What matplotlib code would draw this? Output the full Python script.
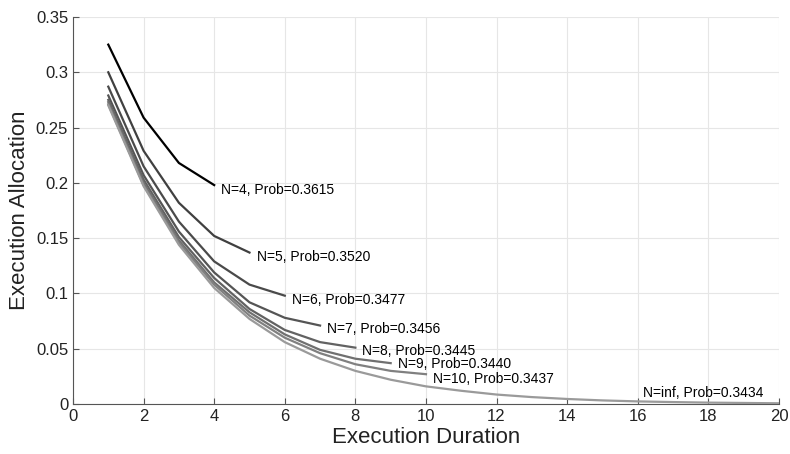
import matplotlib
matplotlib.use("Agg")
import matplotlib.pyplot as plt

plt.rcParams['font.family'] = ['Liberation Sans', 'DejaVu Sans']

series_names = ["4", "5", "6", "7", "8", "9", "10", "inf"]
probs = ["0.3615", "0.3520", "0.3477", "0.3456", "0.3445", "0.3440", "0.3437", "0.3434"]
alloc_n4 = [0.325, 0.259, 0.218, 0.198]
alloc_n5 = [0.300, 0.229, 0.182, 0.152, 0.137]
alloc_n6 = [0.287, 0.215, 0.165, 0.129, 0.108, 0.098]
alloc_n7 = [0.279, 0.207, 0.156, 0.119, 0.092, 0.078, 0.071]
alloc_n8 = [0.275, 0.203, 0.151, 0.114, 0.086, 0.067, 0.056, 0.051]
alloc_n9 = [0.273, 0.200, 0.148, 0.110, 0.083, 0.063, 0.049, 0.041, 0.037]
alloc_n10 = [0.271, 0.198, 0.146, 0.108, 0.080, 0.060, 0.046, 0.036, 0.030, 0.027]
alloc_inf = [0.270, 0.197, 0.144, 0.105, 0.077, 0.056, 0.041, 0.030, 0.022, 0.016,
             0.012, 0.0086, 0.0063, 0.0046, 0.0033, 0.0024, 0.0018, 0.0013, 0.0010, 0.0007]
all_series = [alloc_n4, alloc_n5, alloc_n6, alloc_n7, alloc_n8, alloc_n9, alloc_n10, alloc_inf]
colors = ["#000000", "#404040", "#4a4a4a", "#555555", "#626262", "#707070", "#808080", "#9a9a9a"]
label_dy = [-0.004, -0.004, -0.004, -0.003, -0.003, -0.0005, -0.004, 0.0]

fig = plt.figure(figsize=(7.9, 4.54), dpi=100)
ax = fig.add_axes([0.0924, 0.110, 0.8936, 0.8526])

for name, pr, vals, c, dy in zip(series_names, probs, all_series, colors, label_dy):
    xs = list(range(1, len(vals) + 1))
    ax.plot(xs, vals, color=c, lw=1.6, zorder=3)
    label = f"N={name}, Prob={pr}"
    if name == "inf":
        ax.text(16.15, 0.0035, label, fontsize=10, ha='left', va='bottom', zorder=4)
    else:
        ax.text(xs[-1] + 0.2, vals[-1] + dy, label, fontsize=10, ha='left', va='center', zorder=4)

ax.set_xlim(0, 20)
ax.set_ylim(0, 0.35)
ax.set_xticks(range(0, 21, 2))
ax.set_yticks([0, 0.05, 0.1, 0.15, 0.2, 0.25, 0.3, 0.35])
ax.set_yticklabels(["0", "0.05", "0.1", "0.15", "0.2", "0.25", "0.3", "0.35"])
ax.grid(True, color="#e6e6e6", lw=0.8, zorder=0)
ax.set_axisbelow(True)
for s in ['top', 'right']:
    ax.spines[s].set_visible(False)
for s in ['left', 'bottom']:
    ax.spines[s].set_color('#555555')
    ax.spines[s].set_linewidth(0.8)
ax.tick_params(direction='in', length=4, color='#555555', labelsize=12, labelcolor='#222222')
ax.set_xlabel("Execution Duration", fontsize=16, labelpad=2, color='#222222')
ax.set_ylabel("Execution Allocation", fontsize=16, labelpad=4, color='#222222')

fig.savefig("out.png", dpi=100)
